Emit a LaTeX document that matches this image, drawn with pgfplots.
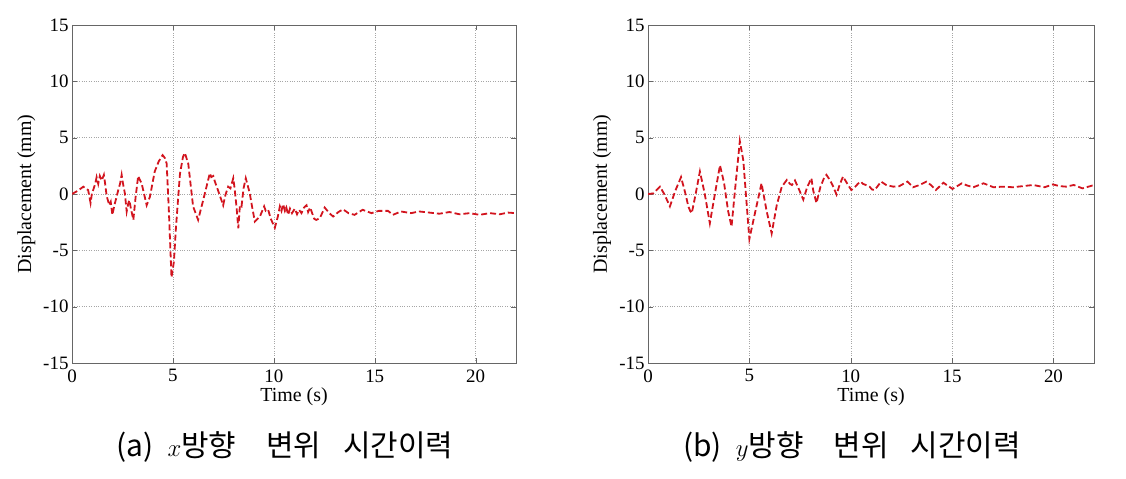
\documentclass[border=0pt]{standalone}
\usepackage{fontspec}
\setmainfont{Liberation Serif}
\newfontfamily\kr{Noto Sans CJK KR}
\usepackage{pgfplots}
\pgfplotsset{compat=1.18}
\definecolor{lc}{RGB}{210,20,30}
\pgfplotsset{myax/.style={
  scale only axis, height=338bp,
  xmin=0, xmax=22, ymin=-15, ymax=15,
  xtick={0,5,...,20}, ytick={-15,-10,...,15},
  grid=major, major grid style={black!35, dotted},
  axis line style={black!60}, tick style={black!60},
  tick align=inside, major tick length=5bp,
  tick label style={font=\fontsize{19}{21}\selectfont},
  label style={font=\fontsize{20}{22}\selectfont},
  /pgf/number format/assume math mode=true,
  xlabel={Time (s)}, ylabel={Displacement (mm)},
  xlabel style={at={(axis description cs:0.5,-0.1)}, anchor=center},
  ylabel style={at={(axis description cs:-0.103,0.5)}, anchor=center},
  xticklabel style={yshift=-3bp},
}}
\tikzset{dline/.style={lc, no marks, line width=1.8bp, dash pattern=on 6bp off 3bp}}
\pgfplotstableread{
t y
0 0
0.3 0.3
0.56 0.65
0.7 0.45
0.8 0.35
0.92 -0.8
1.0 0.2
1.05 0.35
1.15 0.9
1.22 1.5
1.3 0.9
1.38 1.6
1.47 1.2
1.58 1.7
1.65 0.8
1.72 -0.2
1.85 -1.0
1.92 -0.7
2.0 -1.85
2.1 -1.0
2.21 -0.25
2.3 0.4
2.38 0.9
2.46 1.7
2.52 1.0
2.62 0.05
2.71 -1.55
2.78 -0.9
2.84 -0.55
2.92 -1.3
3.04 -2.3
3.15 -0.3
3.28 1.6
3.35 1.3
3.45 0.95
3.7 -1.0
3.86 -0.25
4.1 2.0
4.3 2.9
4.49 3.45
4.6 3.2
4.69 2.7
4.8 -1.5
4.93 -7.4
5.05 -6.0
5.15 -3.0
5.35 1.8
5.5 3.3
5.59 3.65
5.76 2.7
6.0 -1.1
6.25 -2.3
6.5 -0.55
6.83 1.85
6.9 1.5
7.0 1.6
7.08 1.1
7.3 0.0
7.49 -1.0
7.6 -0.1
7.74 0.65
7.85 0.5
7.99 1.4
8.05 0.6
8.15 -1.1
8.24 -3.05
8.32 -1.0
8.4 -1.1
8.5 0.5
8.61 1.4
8.7 0.8
8.81 0.05
8.9 -0.9
9.06 -2.45
9.31 -2.0
9.52 -1.1
9.6 -1.5
9.72 -1.4
9.85 -2.2
10.05 -3.0
10.2 -2.0
10.3 -1.1
10.38 -1.5
10.46 -0.9
10.55 -1.5
10.62 -1.2
10.71 -1.85
10.8 -1.3
10.9 -1.7
11.04 -1.3
11.15 -1.8
11.25 -1.4
11.37 -1.7
11.5 -1.2
11.62 -1.0
11.7 -1.6
11.8 -1.2
11.87 -1.55
12.0 -2.2
12.1 -2.3
12.28 -2.15
12.52 -1.2
12.75 -1.7
12.94 -2.0
13.2 -1.6
13.43 -1.36
13.7 -1.7
14.0 -1.85
14.4 -1.4
14.84 -1.7
15.2 -1.5
15.66 -1.5
15.9 -1.85
16.3 -1.55
16.8 -1.7
17.2 -1.55
17.7 -1.65
18.2 -1.75
18.7 -1.6
19.2 -1.8
19.7 -1.7
20.2 -1.85
20.7 -1.7
21.2 -1.8
21.6 -1.65
22 -1.7
}\xdata
\pgfplotstableread{
t y
0 0
0.26 0.05
0.59 0.65
0.8 0.0
1.08 -1.1
1.35 0.3
1.63 1.5
1.85 0.0
1.99 -1.1
2.08 -1.5
2.16 -1.7
2.35 0.0
2.56 2.0
2.8 0.0
3.05 -2.6
3.3 0.0
3.55 2.55
3.75 1.0
3.95 -1.5
4.12 -2.9
4.3 0.5
4.53 4.7
4.7 3.0
5.0 -4.0
5.3 -1.5
5.6 0.95
5.85 -1.5
6.1 -3.5
6.35 -1.0
6.6 0.65
6.85 1.25
7.0 0.9
7.1 0.8
7.25 1.2
7.45 0.4
7.66 -0.5
7.85 0.6
8.06 1.4
8.15 0.3
8.31 -0.8
8.5 0.6
8.7 1.5
8.8 1.7
8.95 1.3
9.1 0.8
9.3 -0.05
9.45 0.8
9.62 1.55
9.8 1.0
10.03 0.35
10.2 0.6
10.35 0.9
10.5 1.1
10.6 0.9
10.75 0.8
10.93 0.65
11.05 0.4
11.18 0.35
11.5 1.1
11.75 0.8
12.1 0.65
12.4 0.7
12.8 1.1
13.07 0.6
13.4 0.8
13.73 1.1
13.95 0.8
14.2 0.35
14.57 1.0
15.02 0.45
15.48 0.95
15.75 0.75
16.05 0.6
16.55 0.95
17.04 0.6
17.5 0.65
18.0 0.6
18.5 0.7
19.0 0.8
19.56 0.6
19.97 0.85
20.3 0.7
20.63 0.65
21.0 0.8
21.43 0.5
21.92 0.75
22 0.75
}\ydata
\begin{document}
\begin{tikzpicture}
\begin{axis}[myax, width=444bp, at={(72bp,116bp)}, anchor=south west]
\addplot[dline] table[x=t,y=y] {\xdata};
\end{axis}
\begin{axis}[myax, width=446bp, at={(648bp,116bp)}, anchor=south west]
\addplot[dline] table[x=t,y=y] {\ydata};
\end{axis}
\node[font=\kr\fontsize{30}{32}\selectfont] at (285bp,32bp) {(a)\hspace{14bp}$x$방향\hspace{30bp}변위\hspace{22bp}시간이력};
\node[font=\kr\fontsize{30}{32}\selectfont] at (852bp,32bp) {(b)\hspace{14bp}$y$방향\hspace{30bp}변위\hspace{22bp}시간이력};
\pgfresetboundingbox
\path[use as bounding box] (0,0) rectangle (1126bp,479bp);
\end{tikzpicture}
\end{document}
